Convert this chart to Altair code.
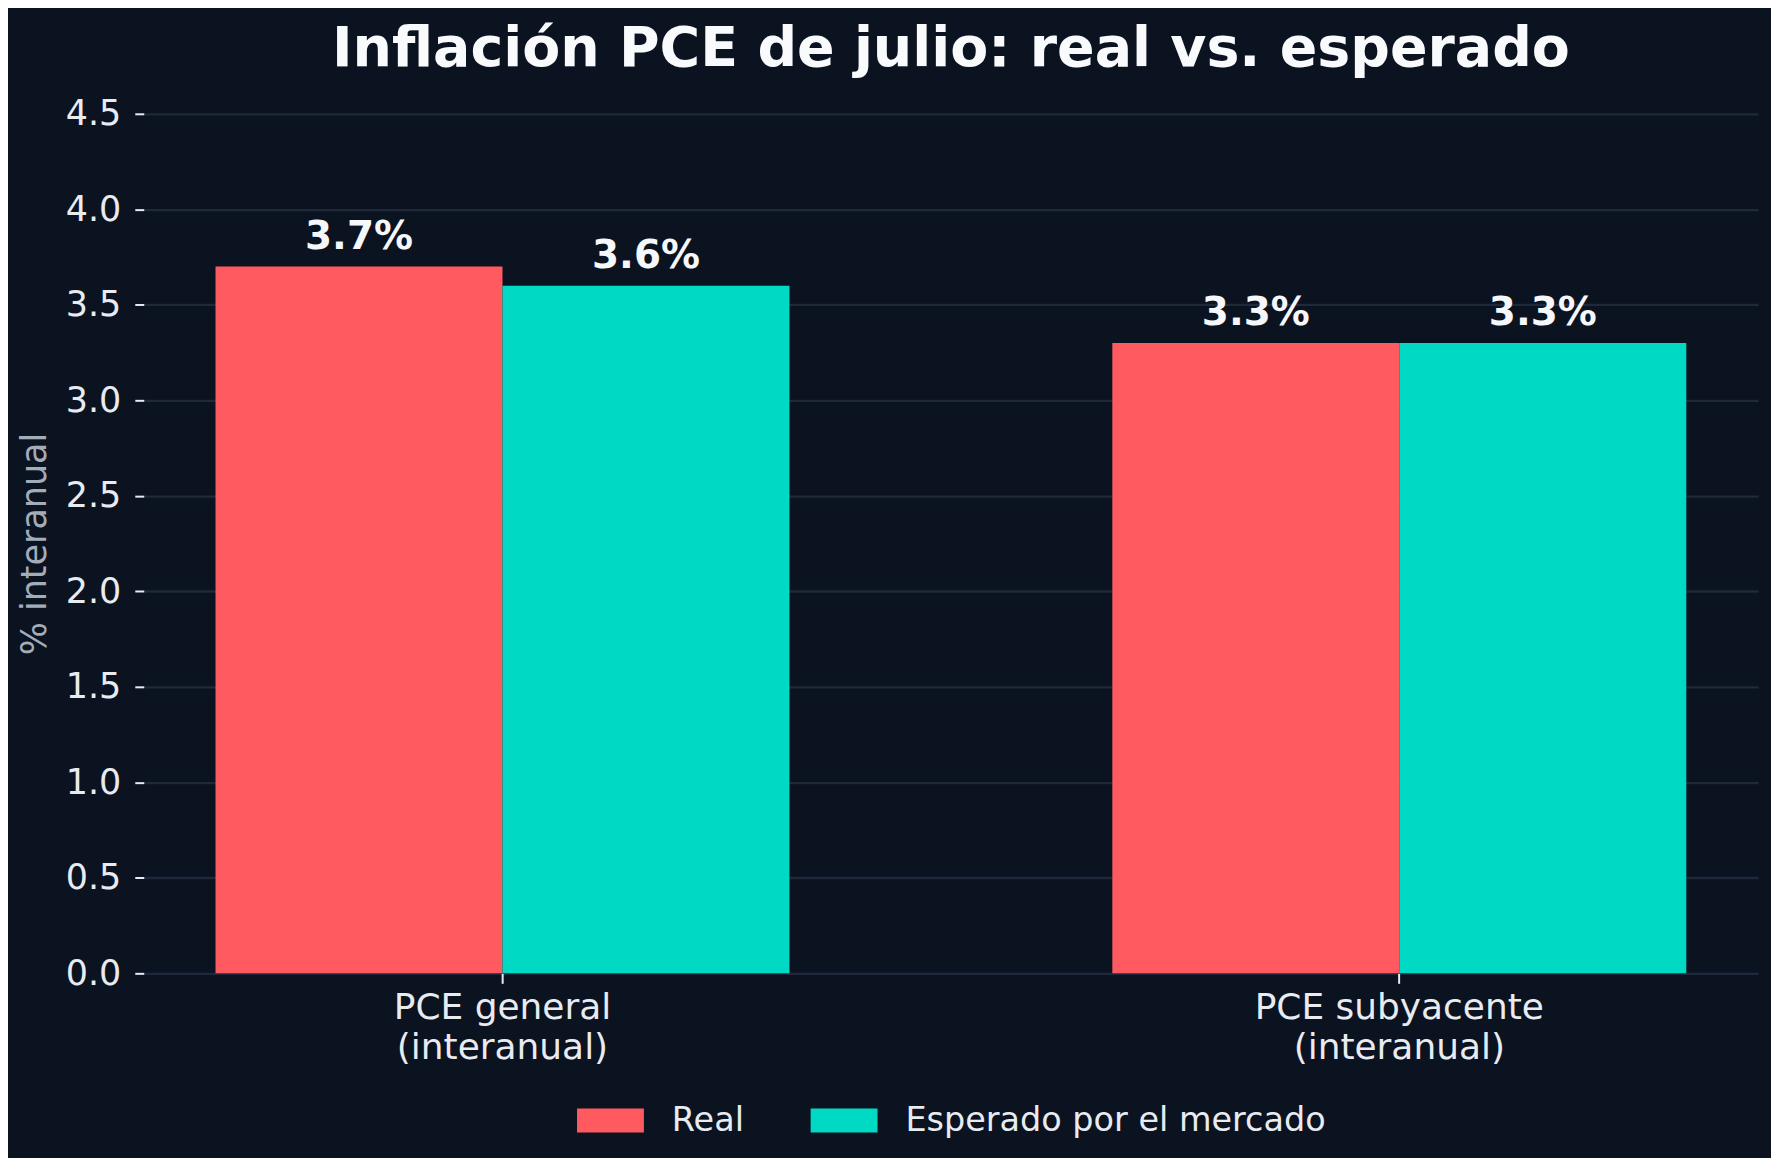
import altair as alt
import pandas as pd

categories = ["PCE general\n(interanual)", "PCE subyacente\n(interanual)"]
series = ["Real", "Esperado por el mercado"]
real_values = [3.7, 3.3]
expected_values = [3.6, 3.3]
y_ticks = [0.0, 0.5, 1.0, 1.5, 2.0, 2.5, 3.0, 3.5, 4.0, 4.5]
colors = ["#FF5A5F", "#00D9C4"]

rows = []
for c, r, e in zip(categories, real_values, expected_values):
    rows.append({"category": c, "series": series[0], "value": r})
    rows.append({"category": c, "series": series[1], "value": e})
df = pd.DataFrame(rows)

BG = "#0b1220"
GRID = "#1e293b"
TXT = "#e8ebf0"

x_enc = alt.X(
    "category:N",
    sort=categories,
    scale=alt.Scale(paddingInner=0.36, paddingOuter=0.08),
    axis=alt.Axis(
        title=None,
        labelAngle=0,
        labelExpr="split(datum.label, '\\n')",
        labelLineHeight=40,
        labelFontSize=36,
        labelColor=TXT,
        labelPadding=7,
        labelLimit=0,
        tickColor=TXT,
        tickSize=10,
        tickWidth=2,
        domain=False,
        grid=False,
    ),
)
xoff = alt.XOffset("series:N", sort=series, scale=alt.Scale(paddingInner=0, paddingOuter=0))
y_enc = alt.Y(
    "value:Q",
    scale=alt.Scale(domain=[0, 4.5], nice=False),
    axis=alt.Axis(
        values=y_ticks,
        format=".1f",
        title="% interanual",
        titleFontSize=35,
        titleFontWeight="normal",
        titleColor="#a3acb9",
        titlePadding=13,
        labelFontSize=35,
        labelColor=TXT,
        labelPadding=14,
        tickColor=TXT,
        tickSize=9,
        tickWidth=2,
        domain=False,
        grid=True,
        gridColor=GRID,
        gridWidth=2.3,
    ),
)

base = alt.Chart(df).encode(x=x_enc, xOffset=xoff)

bars = base.mark_bar().encode(
    y=y_enc,
    color=alt.Color(
        "series:N",
        sort=series,
        scale=alt.Scale(domain=series, range=colors),
        legend=alt.Legend(
            title=None,
            orient="none",
            direction="horizontal",
            legendX=434,
            legendY=975,
            padding=0,
            symbolType="M-1,-0.358L1,-0.358L1,0.358L-1,0.358Z",
            symbolSize=4489,
            symbolStrokeWidth=0,
            symbolOpacity=1,
            labelFontSize=33.5,
            labelColor=TXT,
            labelOffset=28,
            labelLimit=0,
            columnPadding=66,
        ),
    ),
)

labels = base.transform_calculate(
    label="format(datum.value, '.1f') + '%'"
).mark_text(
    baseline="bottom", dy=-10, fontSize=39, fontWeight="bold", color="#f5f7fb"
).encode(y=alt.Y("value:Q"), text="label:N")

chart = (
    alt.layer(bars, labels)
    .properties(
        width=1617,
        height=861,
        title=alt.TitleParams(
            "Inflación PCE de julio: real vs. esperado",
            fontSize=55.5,
            fontWeight="bold",
            color="#f8fafc",
            anchor="middle",
            frame="group",
            offset=19,
        ),
        padding={"left": 9, "top": 13, "right": 13, "bottom": 20},
        background=BG,
    )
    .configure(font="DejaVu Sans")
    .configure_view(stroke=None)
)

chart.save("out.html", embed_options={"renderer": "svg", "actions": False})
